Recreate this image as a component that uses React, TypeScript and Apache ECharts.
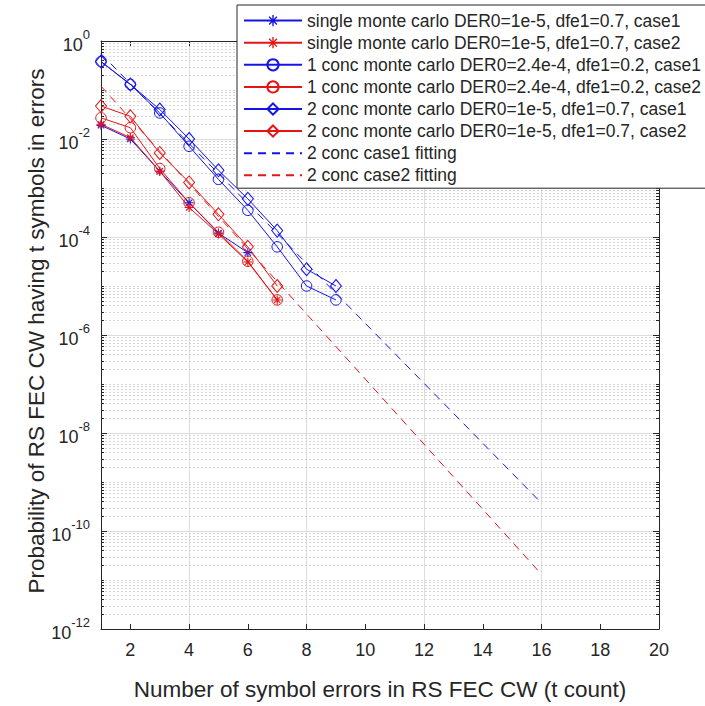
import React, { useEffect, useRef } from "react";
import * as echarts from "echarts";

// ---- data ----
const tSingleCase1 = [1, 2, 3, 4, 5, 6];
const singleCase1 = [1.9e-2, 1.0e-2, 2.2e-3, 5.0e-4, 1.2e-4, 4.8e-5];
const tSingleCase2 = [1, 2, 3, 4, 5, 6, 7];
const singleCase2 = [2.0e-2, 1.07e-2, 2.2e-3, 4.0e-4, 1.15e-4, 3.1e-5, 5.2e-6];
const tConc1Case1 = [1, 2, 3, 4, 5, 6, 7, 8, 9];
const conc1Case1 = [0.38, 0.13, 0.034, 7.1e-3, 1.5e-3, 3.5e-4, 6.3e-5, 1.0e-5, 5.2e-6];
const tConc1Case2 = [1, 2, 3, 4, 5, 6, 7];
const conc1Case2 = [0.027, 0.017, 2.5e-3, 5.0e-4, 1.25e-4, 3.2e-5, 5.2e-6];
const tConc2Case1 = [1, 2, 3, 4, 5, 6, 7, 8, 9];
const conc2Case1 = [0.38, 0.13, 0.04, 0.01, 2.3e-3, 6.0e-4, 1.35e-4, 2.2e-5, 1.0e-5];
const tConc2Case2 = [1, 2, 3, 4, 5, 6, 7];
const conc2Case2 = [0.047, 0.029, 5.2e-3, 1.3e-3, 2.9e-4, 6.3e-5, 1.0e-5];
const tFit = [1, 16];
const fitCase1 = [0.55, 3.7e-10];
const fitCase2 = [0.12, 1.3e-11];

const seriesNames = [
  "single monte carlo DER0=1e-5, dfe1=0.7, case1",
  "single monte carlo DER0=1e-5, dfe1=0.7, case2",
  "1 conc monte carlo DER0=2.4e-4, dfe1=0.2, case1",
  "1 conc monte carlo DER0=2.4e-4, dfe1=0.2, case2",
  "2 conc monte carlo DER0=1e-5, dfe1=0.7, case1",
  "2 conc monte carlo DER0=1e-5, dfe1=0.7, case2",
  "2 conc case1 fitting",
  "2 conc case2 fitting",
];

const xTickValues = [2, 4, 6, 8, 10, 12, 14, 16, 18, 20];
const xTitle = "Number of symbol errors in RS FEC CW (t count)";
const yTitle = "Probability of RS FEC CW having t symbols in errors";

// minor log grid positions (2..9 x 10^k and odd decades)
const minorDecades = [-12, -11, -10, -9, -8, -7, -6, -5, -4, -3, -2, -1];
const minorMantissas = [2, 3, 4, 5, 6, 7, 8, 9];
const oddDecades = [-11, -9, -7, -5, -3, -1];

const BLUE = "#1414e6";
const RED = "#e61414";
const AXIS = "#262626";
const FONT = "'Liberation Sans', Arial, sans-serif";

const ASTERISK =
  "path://M4.4,0L5.6,0L5.6,10L4.4,10Z M0,4.4L10,4.4L10,5.6L0,5.6Z M1.92,1.08L8.92,8.08L8.08,8.92L1.08,1.92Z M8.08,1.08L8.92,1.92L1.92,8.92L1.08,8.08Z";

const zip = (xs: number[], ys: number[]) => xs.map((x, i) => [x, ys[i]]);

export default function App() {
  const ref = useRef<HTMLDivElement>(null);
  useEffect(() => {
    if (!ref.current) return;
    const chart = echarts.init(ref.current, undefined, { renderer: "svg" });

    const minorVals: number[] = [];
    minorDecades.forEach((k) =>
      minorMantissas.forEach((m) => minorVals.push(m * Math.pow(10, k)))
    );
    oddDecades.forEach((k) => minorVals.push(Math.pow(10, k)));

    const lineSeries = (
      name: string,
      data: number[][],
      color: string,
      symbol: string,
      symbolSize: number | number[],
      hollow: boolean,
      dashed = false
    ) => ({
      name,
      type: "line",
      data,
      xAxisIndex: 0,
      yAxisIndex: 0,
      symbol,
      symbolSize,
      showSymbol: symbol !== "none",
      lineStyle: { color, width: 1, type: dashed ? [8, 6] : "solid" },
      itemStyle: hollow
        ? { color: "rgba(0,0,0,0)", borderColor: color, borderWidth: 1 }
        : { color, borderWidth: 0 },
      emphasis: { disabled: true },
      z: 3,
    });

    const legendData = seriesNames.map((n, i) =>
      i >= 6
        ? {
            name: n,
            itemStyle: { color: "rgba(0,0,0,0)", borderColor: "rgba(0,0,0,0)", borderWidth: 0, opacity: 0 },
          }
        : { name: n }
    );

    const option: any = {
      animation: false,
      textStyle: { fontFamily: FONT, color: AXIS },
      grid: { left: 101, right: 46, top: 41, bottom: 65, containLabel: false },
      legend: {
        orient: "vertical",
        left: 237,
        top: 5,
        data: legendData,
        itemWidth: 58,
        itemHeight: 14,
        itemGap: 4.1,
        padding: [6.6, 20, 3.9, 6],
        borderColor: AXIS,
        borderWidth: 1,
        backgroundColor: "#ffffff",
        textStyle: { fontSize: 17.5, color: AXIS, lineHeight: 16, fontFamily: FONT },
        selectedMode: false,
        z: 10,
      },
      xAxis: [
        {
          type: "value",
          position: "bottom",
          min: 1,
          max: 20,
          interval: 1,
          name: xTitle,
          nameLocation: "middle",
          nameGap: 49,
          nameTextStyle: { fontSize: 22.5, color: AXIS, fontFamily: FONT },
          axisLine: { show: true, onZero: false, lineStyle: { color: AXIS, width: 1 } },
          axisTick: { show: true, inside: true, length: 5, customValues: xTickValues, lineStyle: { color: AXIS } },
          axisLabel: { show: true, customValues: xTickValues, fontSize: 18, color: AXIS, margin: 12 },
          splitLine: { show: true, showMinLine: true, lineStyle: { color: ["rgba(0,0,0,0)", "#dcdcdc"], width: 1 } },
        },
        {
          type: "value",
          position: "top",
          min: 1,
          max: 20,
          interval: 1,
          axisLine: { show: true, onZero: false, lineStyle: { color: AXIS, width: 1 } },
          axisTick: { show: true, inside: true, length: 5, customValues: xTickValues, lineStyle: { color: AXIS } },
          axisLabel: { show: false },
          splitLine: { show: false },
        },
      ],
      yAxis: [
        {
          type: "log",
          logBase: 10,
          position: "left",
          min: 1e-12,
          max: 1,
          interval: 2,
          axisLine: { show: true, onZero: false, lineStyle: { color: AXIS, width: 1 } },
          axisTick: { show: true, inside: true, length: 6, lineStyle: { color: AXIS } },
          axisLabel: {
            show: true,
            margin: 11,
            formatter: (v: number) => {
              const e = Math.round(Math.log10(v));
              return `{b|10}{e|${e}}`;
            },
            rich: {
              b: { fontSize: 18, color: AXIS, fontFamily: FONT, verticalAlign: "bottom", lineHeight: 26 },
              e: { fontSize: 13, color: AXIS, fontFamily: FONT, verticalAlign: "top", lineHeight: 13 },
            },
          },
          splitLine: { show: true, lineStyle: { color: "#dcdcdc", width: 1 } },
        },
        {
          type: "log",
          logBase: 10,
          position: "right",
          min: 1e-12,
          max: 1,
          interval: 2,
          axisLine: { show: true, onZero: false, lineStyle: { color: AXIS, width: 1 } },
          axisTick: { show: true, inside: true, length: 6, lineStyle: { color: AXIS } },
          axisLabel: { show: false },
          splitLine: { show: false },
        },
      ],
      graphic: [
        {
          type: "text",
          x: 36,
          y: 331,
          rotation: Math.PI / 2,
          style: {
            text: yTitle,
            fontSize: 22.5,
            fontFamily: FONT,
            fill: AXIS,
            textAlign: "center",
            textVerticalAlign: "middle",
          },
        },
      ],
      series: [
        {
          name: "minor-grid",
          type: "custom",
          silent: true,
          z: 1,
          clip: false,
          xAxisIndex: 0,
          yAxisIndex: 0,
          data: minorVals.map((v) => [1, v]),
          renderItem: (params: any, api: any) => {
            const v = api.value(1);
            const a = api.coord([1, v]);
            const b = api.coord([20, v]);
            const y = Math.round(a[1]) + 0.5;
            return {
              type: "group",
              children: [
                {
                  type: "line",
                  shape: { x1: a[0], y1: y, x2: b[0], y2: y },
                  style: { stroke: "#d6d6d6", lineWidth: 1, lineDash: [2, 2] },
                },
                {
                  type: "line",
                  shape: { x1: a[0], y1: y, x2: a[0] + 3, y2: y },
                  style: { stroke: AXIS, lineWidth: 1 },
                },
                {
                  type: "line",
                  shape: { x1: b[0] - 3, y1: y, x2: b[0], y2: y },
                  style: { stroke: AXIS, lineWidth: 1 },
                },
              ],
            };
          },
        },
        lineSeries(seriesNames[0], zip(tSingleCase1, singleCase1), BLUE, ASTERISK, 9, false),
        lineSeries(seriesNames[1], zip(tSingleCase2, singleCase2), RED, ASTERISK, 9, false),
        lineSeries(seriesNames[2], zip(tConc1Case1, conc1Case1), BLUE, "circle", 10.5, true),
        lineSeries(seriesNames[3], zip(tConc1Case2, conc1Case2), RED, "circle", 10.5, true),
        lineSeries(seriesNames[4], zip(tConc2Case1, conc2Case1), BLUE, "diamond", [11, 13], true),
        lineSeries(seriesNames[5], zip(tConc2Case2, conc2Case2), RED, "diamond", [11, 13], true),
        lineSeries(seriesNames[6], zip(tFit, fitCase1), BLUE, "none", 0, false, true),
        lineSeries(seriesNames[7], zip(tFit, fitCase2), RED, "none", 0, false, true),
      ],
    };
    chart.setOption(option);
    return () => chart.dispose();
  }, []);
  return (
    <div
      ref={ref}
      style={{ position: "fixed", left: 0, top: 0, width: 705, height: 706, background: "#fff" }}
    />
  );
}
